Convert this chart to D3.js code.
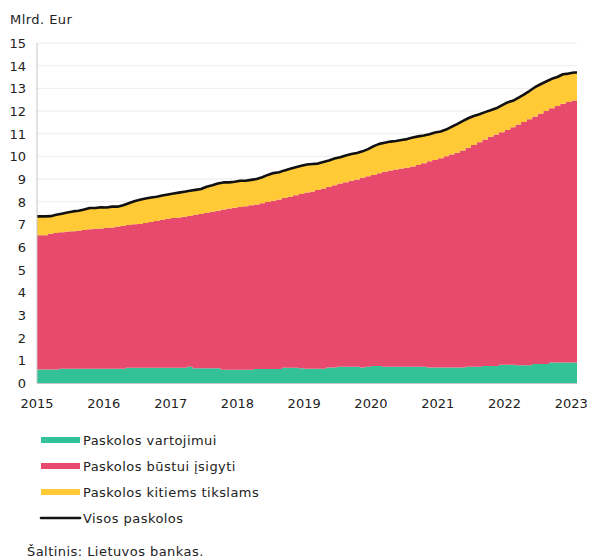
<!DOCTYPE html>
<html><head><meta charset="utf-8">
<script src="https://cdn.jsdelivr.net/npm/d3@7"></script>
<style>
html,body{margin:0;padding:0;background:#fff;}
svg text{font-family:"DejaVu Sans",Verdana,sans-serif;fill:#222;}
</style></head>
<body><svg id="c" width="590" height="560"></svg>
<script>
// Monthly data, Jan 2015 .. Jan 2023 (bln EUR)
const startMonth = "2015-01";
const monthCount = 97;
const consumer = [0.60,0.60,0.60,0.60,0.63,0.63,0.63,0.63,0.63,0.63,0.63,0.63,
 0.63,0.63,0.63,0.63,0.67,0.67,0.67,0.67,0.67,0.67,0.67,0.67,
 0.67,0.67,0.67,0.72,0.65,0.65,0.65,0.65,0.65,0.59,0.59,0.59,
 0.59,0.59,0.59,0.62,0.62,0.62,0.62,0.62,0.67,0.67,0.67,0.65,
 0.63,0.63,0.63,0.63,0.68,0.68,0.72,0.72,0.72,0.72,0.68,0.72,
 0.75,0.75,0.72,0.72,0.72,0.72,0.72,0.72,0.72,0.72,0.68,0.68,
 0.68,0.68,0.68,0.68,0.68,0.72,0.72,0.72,0.75,0.75,0.75,0.80,
 0.80,0.80,0.78,0.78,0.78,0.84,0.84,0.84,0.90,0.90,0.90,0.90,0.90];
const housing = [5.92,5.92,5.98,6.02,6.02,6.05,6.07,6.09,6.12,6.15,6.17,6.19,
 6.21,6.23,6.27,6.31,6.30,6.33,6.35,6.39,6.43,6.48,6.53,6.58,
 6.61,6.63,6.66,6.65,6.77,6.81,6.85,6.90,6.95,7.06,7.11,7.14,
 7.17,7.21,7.25,7.26,7.31,7.36,7.42,7.48,7.49,7.55,7.61,7.69,
 7.77,7.82,7.89,7.95,7.97,8.04,8.08,8.14,8.20,8.26,8.37,8.40,
 8.43,8.50,8.60,8.66,8.70,8.74,8.78,8.83,8.90,8.98,9.10,9.16,
 9.24,9.32,9.40,9.48,9.58,9.66,9.78,9.90,9.99,10.11,10.21,10.26,
 10.36,10.48,10.62,10.74,10.86,10.92,11.04,11.16,11.22,11.32,11.42,11.50,11.56];
const other = [0.83,0.83,0.78,0.80,0.82,0.84,0.87,0.88,0.90,0.94,0.92,0.93,
 0.90,0.92,0.88,0.90,0.96,1.02,1.06,1.08,1.08,1.07,1.07,1.07,
 1.08,1.10,1.11,1.11,1.10,1.10,1.16,1.17,1.20,1.20,1.15,1.15,
 1.16,1.12,1.12,1.12,1.15,1.20,1.22,1.20,1.22,1.23,1.24,1.24,
 1.24,1.21,1.16,1.17,1.17,1.18,1.16,1.18,1.18,1.17,1.17,1.20,
 1.27,1.30,1.28,1.27,1.26,1.26,1.26,1.28,1.26,1.22,1.19,1.21,
 1.18,1.18,1.22,1.26,1.29,1.30,1.28,1.24,1.21,1.17,1.16,1.19,
 1.22,1.17,1.18,1.20,1.24,1.29,1.30,1.30,1.30,1.28,1.30,1.25,1.24];
const seriesNames = ["Paskolos vartojimui","Paskolos būstui įsigyti","Paskolos kitiems tikslams"];
const totalName = "Visos paskolos";
const seriesColors = ["#33c297","#e84a6e","#ffca35"];
const yearLabels = ["2015","2016","2017","2018","2019","2020","2021","2022","2023"];
const yTicks = [0,1,2,3,4,5,6,7,8,9,10,11,12,13,14,15];
const unitLabel = "Mlrd. Eur";
const sourceText = "Šaltinis: Lietuvos bankas.";

const svg = d3.select("#c");
const parse = d3.timeParse("%Y-%m");
const t0 = parse(startMonth);
const months = d3.range(monthCount).map(i => d3.timeMonth.offset(t0, i));
const tEnd = d3.timeMonth.offset(t0, monthCount);

const L = 37, R = 577, T = 43, B = 383;
const x = d3.scaleTime().domain([t0, tEnd]).range([L, R]);
const y = d3.scaleLinear().domain([0, 15]).range([B, T]);

const rows = months.map((d, i) => ({date: d, c: consumer[i], h: housing[i], o: other[i]}));
const stack = d3.stack().keys(["c","h","o"]);
const rowsExt = rows.concat([{date: tEnd, c: consumer[monthCount-1], h: housing[monthCount-1], o: other[monthCount-1]}]);
const layers = stack(rowsExt);

// grid
svg.append("g").selectAll("line").data(yTicks.filter(v => v > 0)).join("line")
  .attr("x1", L).attr("x2", R).attr("y1", d => y(d)).attr("y2", d => y(d))
  .attr("stroke", "#ededed").attr("stroke-width", 1);

const area = d3.area().curve(d3.curveStepAfter)
  .x(d => x(d.data.date)).y0(d => y(d[0])).y1(d => y(d[1]));
svg.append("g").selectAll("path").data(layers).join("path")
  .attr("d", area).attr("fill", (d, i) => seriesColors[i]);

// total line
const totals = rows.map(r => ({date: r.date, v: r.c + r.h + r.o}));
const half = d => new Date((+d + +d3.timeMonth.offset(d, 1)) / 2);
const linePts = [{px: x(t0), v: totals[0].v}]
  .concat(totals.map(t => ({px: x(half(t.date)), v: t.v})))
  .concat([{px: x(tEnd), v: totals[totals.length-1].v}]);
svg.append("path").datum(linePts)
  .attr("d", d3.line().x(d => d.px).y(d => y(d.v)))
  .attr("fill", "none").attr("stroke", "#111").attr("stroke-width", 2.6)
  .attr("stroke-linejoin", "round");

// axes lines
svg.append("line").attr("x1", L).attr("x2", L).attr("y1", T).attr("y2", B)
  .attr("stroke", "#c4c4c4").attr("stroke-width", 1);
svg.append("line").attr("x1", L).attr("x2", R).attr("y1", B + 0.5).attr("y2", B + 0.5)
  .attr("stroke", "#c4c4c4").attr("stroke-width", 1);

// y labels
svg.append("g").selectAll("text").data(yTicks).join("text")
  .attr("x", 26).attr("y", d => y(d) + 5).attr("text-anchor", "end")
  .attr("font-size", 13).text(d => d);

// x labels
svg.append("g").selectAll("text").data(yearLabels).join("text")
  .attr("x", d => x(parse(d + "-01"))).attr("y", 408).attr("text-anchor", "middle")
  .attr("font-size", 13).text(d => d);

svg.append("text").attr("x", 10).attr("y", 24).attr("font-size", 13)
  .attr("letter-spacing", 0.45).text(unitLabel);

// legend
const leg = svg.append("g");
const legY = [440, 466, 492, 518];
seriesNames.forEach((n, i) => {
  leg.append("rect").attr("x", 41).attr("y", legY[i] - 3).attr("width", 39).attr("height", 6)
    .attr("fill", seriesColors[i]);
  leg.append("text").attr("x", 83).attr("y", legY[i] + 5).attr("font-size", 13)
    .attr("letter-spacing", 0.45).text(n);
});
leg.append("line").attr("x1", 41).attr("x2", 80).attr("y1", legY[3]).attr("y2", legY[3])
  .attr("stroke", "#111").attr("stroke-width", 2.6).attr("stroke-linecap", "round");
leg.append("text").attr("x", 83).attr("y", legY[3] + 5).attr("font-size", 13)
  .attr("letter-spacing", 0.45).text(totalName);

svg.append("text").attr("x", 27).attr("y", 556).attr("font-size", 13)
  .attr("letter-spacing", 0.45).text(sourceText);
</script></body></html>
